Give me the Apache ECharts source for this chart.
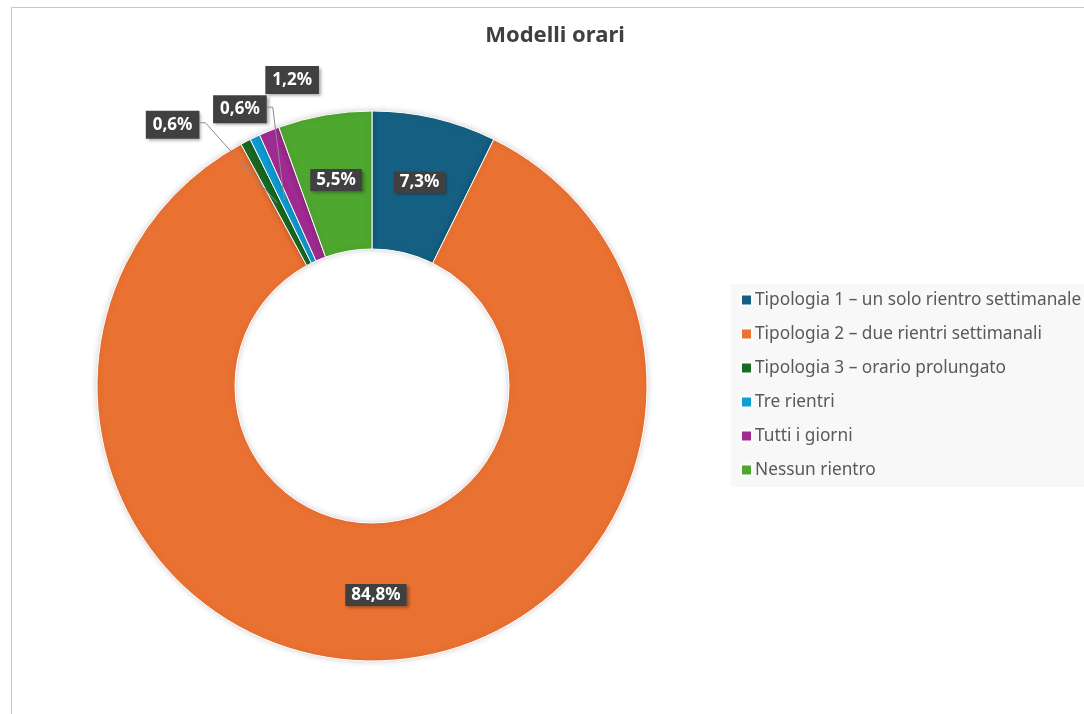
<!DOCTYPE html>
<html>
<head>
<meta charset="utf-8">
<script src="https://cdn.jsdelivr.net/npm/echarts@6/dist/echarts.min.js"></script>
<style>
  html, body { margin: 0; padding: 0; background: #fff; }
  #chart { width: 1084px; height: 714px; }
</style>
</head>
<body>
<div id="chart"></div>
<script>
const categories = [
  'Tipologia 1 – un solo rientro settimanale',
  'Tipologia 2 – due rientri settimanali',
  'Tipologia 3 – orario prolungato',
  'Tre rientri',
  'Tutti i giorni',
  'Nessun rientro',
]
const shares = [7.3, 84.8, 0.6, 0.6, 1.2, 5.5]
const colors = ['#156082', '#E97132', '#196B24', '#0F9ED5', '#A02B93', '#4EA72E']

const FONT = 'Noto Sans'
const CX = 372
const CY = 386
const R_IN = 137
const R_OUT = 275

// small slices get their label pulled outside: [dx, dy from slice edge, show leader line]
const labelNudge = {
  2: [-73, -17, true],
  3: [-15, -28, true],
  4: [23, -51, false],
}

const total = shares.reduce((a, b) => a + b, 0)
const midAngle = (i) => {
  let before = 0
  for (let k = 0; k < i; k++) before += shares[k]
  return (90 - ((before + shares[i] / 2) / total) * 360) * Math.PI / 180
}

const fmt = (v) => v.toFixed(1).replace('.', ',') + '%'

// where the outside labels ended up, filled in by labelLayout
const placed = {}

const chart = echarts.init(document.getElementById('chart'))

chart.setOption({
  backgroundColor: '#fff',
  animation: false,
  title: {
    text: 'Modelli orari',
    left: 550,
    top: 20,
    textAlign: 'center',
    textStyle: { fontFamily: FONT, fontSize: 22, fontWeight: 'bold', color: '#404040' },
  },
  legend: {
    orient: 'vertical',
    left: 731,
    top: 284,
    padding: [7, 60, 8, 9],
    backgroundColor: '#f8f8f8',
    icon: 'rect',
    itemWidth: 11,
    itemHeight: 11,
    itemGap: 16,
    selectedMode: false,
    textStyle: { fontFamily: FONT, fontSize: 17.3, lineHeight: 18, color: '#595959', padding: [0, 0, 0, -2] },
    data: categories,
  },
  graphic: [{
    id: 'frame',
    type: 'rect',
    shape: { x: 11.5, y: 7.5, width: 1200, height: 800 },
    style: { fill: 'none', stroke: '#c6c6c6', lineWidth: 1 },
    silent: true,
  }],
  series: [{
    type: 'pie',
    center: [CX, CY],
    radius: [R_IN, R_OUT],
    startAngle: 90,
    clockwise: true,
    avoidLabelOverlap: false,
    itemStyle: {
      borderColor: '#fff',
      borderWidth: 1,
      shadowBlur: 6,
      shadowColor: 'rgba(0,0,0,0.18)',
    },
    label: {
      show: true,
      position: 'inside',
      formatter: (p) => fmt(p.value),
      fontFamily: FONT,
      fontSize: 17,
      fontWeight: 'bold',
      color: '#fff',
      backgroundColor: '#404040',
      padding: [3, 6, 2, 6],
      shadowBlur: 3,
      shadowOffsetX: 2,
      shadowOffsetY: 2,
      shadowColor: 'rgba(0,0,0,0.35)',
    },
    labelLine: { show: false },
    labelLayout: (p) => {
      const nudge = labelNudge[p.dataIndex]
      if (!nudge) return {}
      const ang = midAngle(p.dataIndex)
      const x = CX + R_OUT * Math.cos(ang) + nudge[0]
      const y = CY - R_OUT * Math.sin(ang) + nudge[1]
      placed[p.dataIndex] = { x, y, w: p.labelRect.width }
      return { x, y, align: 'center', verticalAlign: 'middle' }
    },
    data: categories.map((name, i) => {
      const item = { name, value: shares[i], itemStyle: { color: colors[i] } }
      if (labelNudge[i]) {
        item.label = { position: 'outside', padding: [6, 7, 5, 7] }
      }
      return item
    }),
  }],
})

// leader lines: from the middle of the ring to the right edge of the label
const rMid = (R_IN + R_OUT) / 2
const leaders = Object.keys(labelNudge)
  .filter((k) => labelNudge[k][2] && placed[k])
  .map((k) => {
    const ang = midAngle(+k)
    const pl = placed[k]
    const right = pl.x + pl.w / 2
    return {
      id: 'leader' + k,
      type: 'polyline',
      z: 100,
      silent: true,
      shape: {
        points: [
          [CX + rMid * Math.cos(ang), CY - rMid * Math.sin(ang)],
          [right + 6, pl.y - 2],
          [right, pl.y - 2],
        ],
      },
      style: { fill: 'none', stroke: '#8c8c8c', lineWidth: 1 },
    }
  })

chart.setOption({ graphic: leaders })
</script>
</body>
</html>
